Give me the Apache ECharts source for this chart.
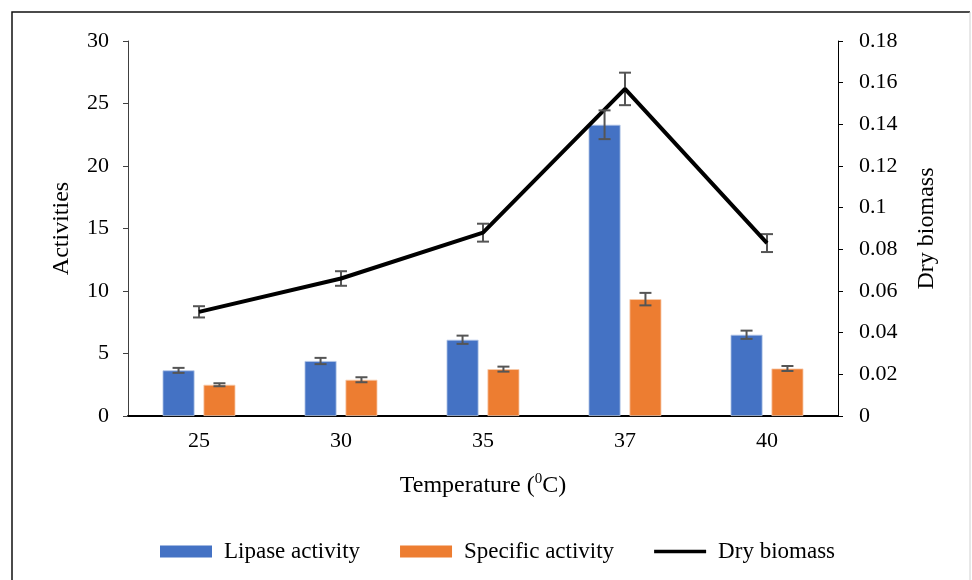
<!DOCTYPE html>
<html>
<head>
<meta charset="utf-8">
<script src="https://cdn.jsdelivr.net/npm/echarts@6/dist/echarts.min.js"></script>
<style>html,body{margin:0;padding:0;background:#fff;}#c{width:972px;height:580px;}</style>
</head>
<body>
<div id="c"></div>
<script>
const categories = ['25', '30', '35', '37', '40'];
const lipase = [3.65, 4.4, 6.1, 23.3, 6.5];
const lipaseErr = [0.2, 0.25, 0.33, 1.15, 0.33];
const specific = [2.5, 2.9, 3.75, 9.35, 3.8];
const specificErr = [0.12, 0.2, 0.2, 0.5, 0.2];
const biomass = [0.050, 0.066, 0.088, 0.157, 0.083];
const biomassErr = [0.0027, 0.0035, 0.0043, 0.0078, 0.0043];
const leftTicks = [0, 5, 10, 15, 20, 25, 30];
const rightTicks = [0, 0.02, 0.04, 0.06, 0.08, 0.1, 0.12, 0.14, 0.16, 0.18];

const FONT = '"Liberation Serif", "Times New Roman", serif';
const BAR_W = 0.225, BAR_GAP = 0.28;
const shift = BAR_W * (1 + BAR_GAP) / 2;

function errData(vals, errs) { return vals.map((v, i) => [i, v, errs[i]]); }
function errRender(sign) {
  return function (params, api) {
    const i = api.value(0), v = api.value(1), e = api.value(2);
    const band = api.size([1, 0])[0];
    const dx = sign * band * shift;
    const hi = api.coord([i, v + e]);
    const lo = api.coord([i, v - e]);
    const x = hi[0] + dx;
    const cap = 6;
    const st = { stroke: '#555555', lineWidth: 2 };
    return {
      type: 'group',
      children: [
        { type: 'line', shape: { x1: x, y1: hi[1], x2: x, y2: lo[1] }, style: st },
        { type: 'line', shape: { x1: x - cap, y1: hi[1], x2: x + cap, y2: hi[1] }, style: st },
        { type: 'line', shape: { x1: x - cap, y1: lo[1], x2: x + cap, y2: lo[1] }, style: st }
      ]
    };
  };
}

const chart = echarts.init(document.getElementById('c'), null, { renderer: 'canvas' });
chart.setOption({
  animation: false,
  backgroundColor: '#fff',
  textStyle: { fontFamily: FONT },
  graphic: [
    { type: 'polyline', shape: { points: [[12, 600], [12, 12], [970, 12]] }, style: { stroke: '#111', lineWidth: 1.5, fill: null } },
    { type: 'line', shape: { x1: 970, y1: 12, x2: 970, y2: 600 }, style: { stroke: '#d0d0d0', lineWidth: 1 } }
  ],
  grid: { left: 128, right: 134, top: 41, bottom: 164 },
  legend: {
    left: 160, top: 540, padding: 0,
    itemWidth: 52, itemHeight: 12, itemGap: 40,
    textStyle: { fontFamily: FONT, fontSize: 23, color: '#000', padding: [0, 0, 0, 7] },
    data: [
      { name: 'Lipase activity', icon: 'rect', itemStyle: { borderWidth: 0 } },
      { name: 'Specific activity', icon: 'rect', itemStyle: { borderWidth: 0 } },
      { name: 'Dry biomass', icon: 'path://M0,0H52V3.5H0Z', itemStyle: { color: '#000', borderWidth: 0 } }
    ]
  },
  xAxis: {
    type: 'category', data: categories,
    axisLine: { lineStyle: { color: '#000', width: 2 } },
    axisTick: { show: false },
    axisLabel: { fontFamily: FONT, fontSize: 22, color: '#000', margin: 14 },
    name: 'Temperature ({sup|0}C)', nameLocation: 'middle', nameGap: 56,
    nameTextStyle: {
      fontFamily: FONT, fontSize: 24, color: '#000',
      rich: { sup: { fontFamily: FONT, fontSize: 15, color: '#000', verticalAlign: 'top', lineHeight: 28, padding: [0, 0, 10, 0] } }
    }
  },
  yAxis: [
    {
      type: 'value', min: 0, max: 30, interval: 5,
      axisLine: { show: true, lineStyle: { color: '#404040', width: 1 } },
      axisTick: { show: true, length: 5, lineStyle: { color: '#404040' } },
      splitLine: { show: false },
      axisLabel: { fontFamily: FONT, fontSize: 22, color: '#000', margin: 19 },
      name: 'Activities', nameLocation: 'middle', nameGap: 54, nameRotate: 90,
      nameTextStyle: { fontFamily: FONT, fontSize: 24, color: '#000' }
    },
    {
      type: 'value', min: 0, max: 0.18, interval: 0.02,
      axisLine: { show: true, lineStyle: { color: '#000', width: 1 } },
      axisTick: { show: true, length: 5, lineStyle: { color: '#000' } },
      splitLine: { show: false },
      axisLabel: { fontFamily: FONT, fontSize: 22, color: '#000', margin: 21 },
      name: 'Dry biomass', nameLocation: 'middle', nameGap: 77, nameRotate: 90,
      nameTextStyle: { fontFamily: FONT, fontSize: 24, color: '#000' }
    }
  ],
  series: [
    { name: 'Lipase activity', type: 'bar', data: lipase, barWidth: (BAR_W * 100) + '%', barGap: (BAR_GAP * 100) + '%', itemStyle: { color: '#4472C4', borderColor: '#B4C7E7', borderWidth: 0.8 } },
    { name: 'Specific activity', type: 'bar', data: specific, barWidth: (BAR_W * 100) + '%', barGap: (BAR_GAP * 100) + '%', itemStyle: { color: '#ED7D31', borderColor: '#F8CBAD', borderWidth: 0.8 } },
    { name: 'Dry biomass', type: 'line', yAxisIndex: 1, data: biomass, symbol: 'none', lineStyle: { color: '#000', width: 4 }, itemStyle: { color: '#000' }, z: 4 },
    { type: 'custom', renderItem: errRender(-1), data: errData(lipase, lipaseErr), z: 5, silent: true },
    { type: 'custom', renderItem: errRender(1), data: errData(specific, specificErr), z: 5, silent: true },
    { type: 'custom', renderItem: errRender(0), yAxisIndex: 1, data: errData(biomass, biomassErr), z: 3, silent: true }
  ]
});
</script>
</body>
</html>
